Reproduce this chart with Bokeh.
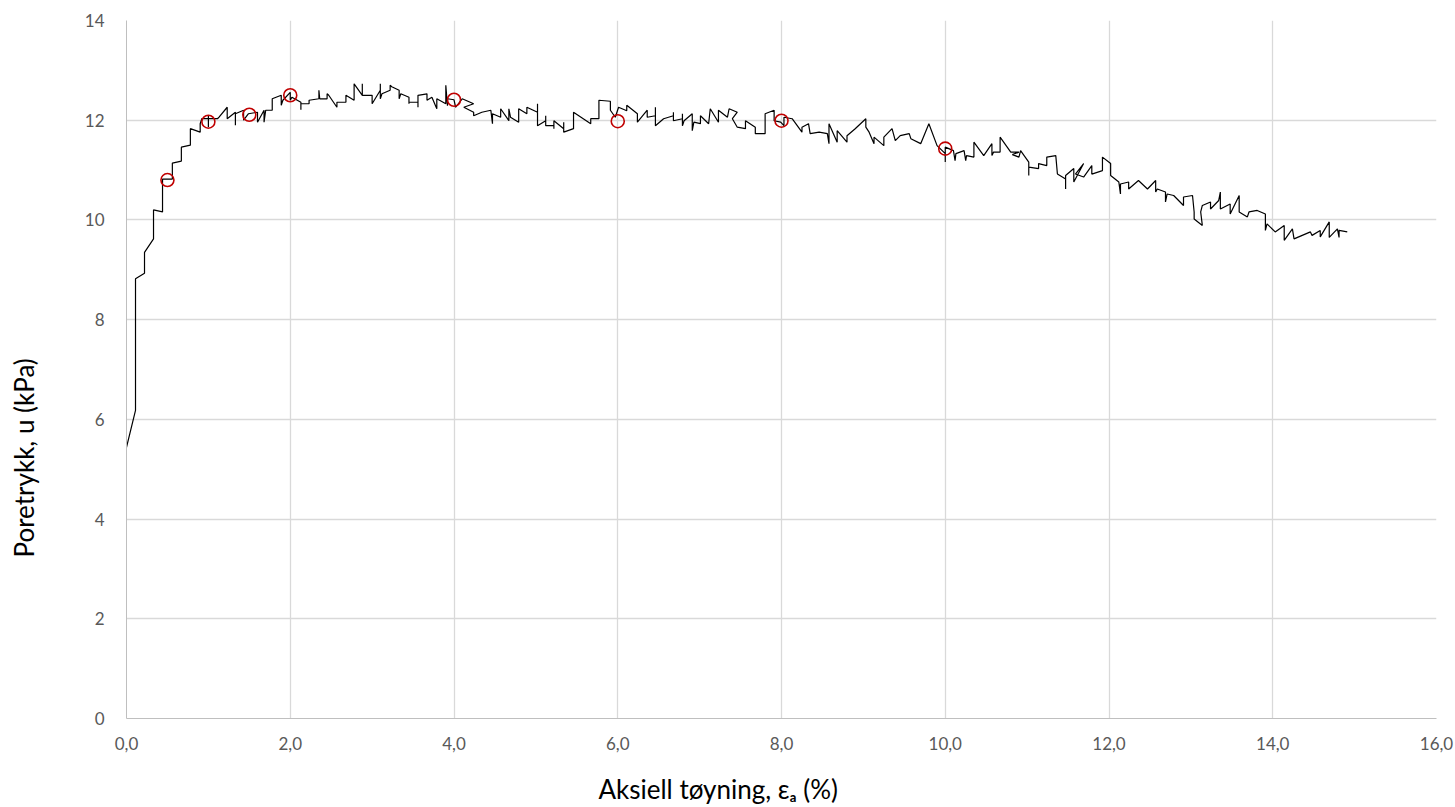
from bokeh.plotting import figure
from bokeh.models import FixedTicker, Range1d, Title
from bokeh.embed import file_html
from bokeh.resources import INLINE

# Axial strain (%) and pore pressure (kPa) from the undrained triaxial test log
strain = [
    0.00, 0.11, 0.11, 0.22, 0.22, 0.33, 0.33, 0.44, 0.44, 0.56, 0.56, 0.67, 0.67, 0.78, 0.78, 0.90, 0.90, 0.92,
    1.00, 1.00, 1.00, 1.00, 1.11, 1.13, 1.23, 1.23, 1.33, 1.33, 1.33, 1.43, 1.43, 1.49, 1.60, 1.60, 1.68, 1.68,
    1.70, 1.78, 1.78, 1.89, 1.89, 1.91, 2.00, 2.00, 2.02, 2.13, 2.13, 2.13, 2.23, 2.23, 2.35, 2.35, 2.36, 2.45,
    2.45, 2.47, 2.57, 2.57, 2.68, 2.68, 2.78, 2.78, 2.88, 2.88, 2.88, 3.00, 3.00, 3.10, 3.10, 3.10, 3.12, 3.22,
    3.22, 3.24, 3.33, 3.33, 3.35, 3.45, 3.45, 3.45, 3.56, 3.56, 3.56, 3.67, 3.67,
    3.73, 3.79, 3.79, 3.90, 3.90, 3.92, 3.92, 4.00, 4.02, 4.10, 4.24, 4.12, 4.24, 4.24, 4.34, 4.45, 4.47, 4.47,
    4.57, 4.57, 4.67, 4.67, 4.69, 4.79, 4.79, 4.89, 4.89, 5.02, 5.02, 5.02, 5.12, 5.12, 5.12, 5.22, 5.22, 5.22,
    5.34, 5.34, 5.34, 5.46, 5.46, 5.67, 5.67, 5.77, 5.77, 5.91, 5.91, 5.97, 6.01, 6.11, 6.11, 6.24, 6.24, 6.36,
    6.36, 6.46, 6.46, 6.46, 6.56,
    6.68, 6.68, 6.68, 6.79, 6.79, 6.79, 6.81, 6.91, 6.91, 6.93, 7.01, 7.01, 7.11, 7.13, 7.23, 7.23, 7.34, 7.36,
    7.46, 7.40, 7.46, 7.56, 7.56, 7.68, 7.68, 7.80, 7.80, 7.91, 7.91, 7.99, 8.03, 8.03, 8.13, 8.25, 8.25, 8.33,
    8.35, 8.46, 8.56, 8.58, 8.58, 8.68, 8.68, 8.80, 8.80, 8.90, 9.03, 9.03, 9.07, 9.13, 9.13, 9.25, 9.25, 9.35,
    9.39, 9.45,
    9.56, 9.58, 9.70, 9.80, 9.90, 10.00, 10.00, 10.00, 10.10, 10.12, 10.13, 10.23, 10.25, 10.26, 10.35, 10.35,
    10.47, 10.57, 10.57, 10.59, 10.67, 10.67, 10.80, 10.90, 10.82, 10.90, 10.92, 11.02, 11.02, 11.02, 11.14,
    11.14, 11.24, 11.24, 11.35, 11.37, 11.47, 11.47, 11.47, 11.57, 11.57, 11.69, 11.59, 11.69, 11.79, 11.79,
    11.92, 11.92, 12.02, 12.02, 12.12, 12.14, 12.14, 12.24, 12.24, 12.36,
    12.47, 12.57, 12.57, 12.59, 12.69, 12.69, 12.71, 12.79, 12.91, 12.91, 13.02, 13.04, 13.04, 13.14, 13.12,
    13.14, 13.24, 13.24, 13.34, 13.36, 13.36, 13.48, 13.48, 13.59, 13.59, 13.69, 13.71, 13.81, 13.91, 13.91,
    13.93, 14.03, 14.14, 14.14, 14.24, 14.26, 14.36, 14.46, 14.48, 14.58, 14.58, 14.69, 14.69, 14.79, 14.81,
    14.81, 14.91,
]
pore_pressure = [
    5.44, 6.18, 8.82, 8.93, 9.35, 9.62, 10.20, 10.16, 10.82, 10.82, 11.14, 11.18, 11.46, 11.50, 11.83, 11.76, 11.93, 12.03,
    12.03, 12.10, 11.86, 12.03, 12.03, 12.06, 12.26, 12.03, 12.16, 11.90, 12.13, 12.20, 12.00, 12.13, 12.16, 11.96, 12.20, 11.96,
    12.20, 12.20, 12.43, 12.50, 12.30, 12.40, 12.56, 12.40, 12.46, 12.36, 12.21, 12.33, 12.33, 12.40, 12.43, 12.60, 12.43, 12.43,
    12.53, 12.50, 12.26, 12.36, 12.36, 12.50, 12.40, 12.73, 12.50, 12.73, 12.50, 12.50, 12.33, 12.60, 12.73, 12.43, 12.53, 12.60,
    12.70, 12.67, 12.60, 12.43, 12.53, 12.46, 12.33, 12.36, 12.36, 12.26, 12.50, 12.53, 12.40,
    12.46, 12.23, 12.43, 12.33, 12.70, 12.29, 12.43, 12.41, 12.26, 12.43, 12.33, 12.26, 12.16, 12.09, 12.16, 12.20, 11.93, 12.13,
    12.06, 12.23, 11.99, 12.23, 12.06, 11.96, 12.23, 12.13, 12.26, 12.16, 12.33, 11.89, 11.99, 12.09, 11.89, 11.89, 11.83, 11.99,
    11.83, 11.96, 11.76, 11.83, 12.16, 11.93, 12.03, 12.03, 12.40, 12.38, 12.20, 12.06, 12.26, 12.19, 12.30, 12.13, 11.96, 12.20,
    12.06, 12.09, 12.26, 11.89, 12.03,
    12.09, 12.16, 11.99, 12.03, 12.13, 11.89, 11.99, 12.13, 11.79, 11.96, 11.93, 12.09, 11.93, 12.23, 11.96, 12.20, 12.06, 12.23,
    12.16, 12.03, 11.86, 11.83, 11.99, 11.86, 11.73, 11.73, 12.13, 12.20, 11.99, 11.96, 11.89, 12.06, 12.03, 11.76, 11.86, 11.93,
    11.73, 11.76, 11.73, 11.53, 11.93, 11.56, 11.79, 11.56, 11.69, 11.83, 12.03, 11.86, 11.76, 11.53, 11.66, 11.49, 11.66, 11.83,
    11.59, 11.69,
    11.73, 11.63, 11.53, 11.93, 11.49, 11.33, 11.16, 11.46, 11.39, 11.19, 11.33, 11.39, 11.19, 11.29, 11.26, 11.56,
    11.29, 11.53, 11.29, 11.36, 11.36, 11.66, 11.36, 11.36, 11.31, 11.26, 11.39, 11.16, 10.89, 11.06, 11.03,
    11.13, 11.09, 11.26, 11.29, 10.92, 10.82, 10.62, 10.89, 11.03, 10.76, 11.13, 10.92, 10.86, 11.09, 10.92,
    10.99, 11.26, 11.13, 10.89, 10.76, 10.52, 10.72, 10.76, 10.62, 10.79,
    10.62, 10.79, 10.56, 10.62, 10.56, 10.36, 10.52, 10.49, 10.29, 10.46, 10.49, 10.16, 10.02, 9.89, 10.16,
    10.29, 10.36, 10.22, 10.39, 10.56, 10.22, 10.32, 10.12, 10.49, 10.16, 10.06, 10.16, 10.19, 10.12, 9.79,
    9.92, 9.76, 9.89, 9.59, 9.82, 9.62, 9.69, 9.76, 9.69, 9.79, 9.66, 9.96, 9.65, 9.82, 9.65,
    9.79, 9.76,
]

# Reference readings marked at selected strain levels
marker_strain = [0.5, 1.0, 1.5, 2.0, 4.0, 6.0, 8.0, 10.0]
marker_pressure = [10.80, 11.97, 12.11, 12.50, 12.41, 11.98, 11.99, 11.43]

x_ticks = [0, 2, 4, 6, 8, 10, 12, 14, 16]
x_tick_labels = ["0,0", "2,0", "4,0", "6,0", "8,0", "10,0", "12,0", "14,0", "16,0"]
y_ticks = [0, 2, 4, 6, 8, 10, 12, 14]
y_tick_labels = ["0", "2", "4", "6", "8", "10", "12", "14"]

x_title = "Aksiell tøyning, εₐ (%)"
y_title = "Poretrykk, u (kPa)"

FONT = "Lato"
GRID = "#D9D9D9"

p = figure(
    width=1455, height=807,
    output_backend="svg", toolbar_location=None,
    x_range=Range1d(0, 16), y_range=Range1d(0, 14),
    min_border_left=126, min_border_right=19, min_border_top=20, min_border_bottom=89,
)
p.outline_line_color = None
p.background_fill_color = "white"
p.border_fill_color = "white"

p.xaxis.ticker = FixedTicker(ticks=x_ticks)
p.xaxis.major_label_overrides = dict(zip(x_ticks, x_tick_labels))
p.yaxis.ticker = FixedTicker(ticks=y_ticks)
p.yaxis.major_label_overrides = dict(zip(y_ticks, y_tick_labels))

for ax in (p.xaxis, p.yaxis):
    ax.axis_line_color = "#BFBFBF"
    ax.axis_line_width = 1
    ax.major_tick_line_color = None
    ax.minor_tick_line_color = None
    ax.major_label_text_font = FONT
    ax.major_label_text_font_size = "17px"
    ax.major_label_text_color = "#595959"

p.xaxis.major_label_standoff = 12
p.yaxis.major_label_standoff = 16

p.xgrid.ticker = FixedTicker(ticks=x_ticks)
p.ygrid.ticker = FixedTicker(ticks=y_ticks)
p.grid.grid_line_color = GRID
p.grid.grid_line_width = 1.3

p.line(strain, pore_pressure, line_color="black", line_width=1.2)
p.scatter(marker_strain, marker_pressure, marker="circle", size=13,
          fill_color=None, line_color="#C00000", line_width=1.6)

# Axis titles as side panels; the offset slides each along the frame edge and
# padding on the frame-facing side of the text box moves the text outward
title_style = dict(text_font=FONT, text_font_size="26px", text_font_style="normal",
                   text_color="black", align="left", standoff=0)
x_title_box = Title(text=x_title, offset=472, vertical_align="top", **title_style)
y_title_box = Title(text=y_title, offset=161, vertical_align="bottom", **title_style)
if "padding" in Title.properties():
    x_title_box.padding = dict(left=0, right=0, top=20, bottom=0)
    y_title_box.padding = dict(left=0, right=0, top=0, bottom=42)
p.add_layout(x_title_box, "below")
p.add_layout(y_title_box, "left")

open("out.html", "w").write(file_html(p, INLINE))
